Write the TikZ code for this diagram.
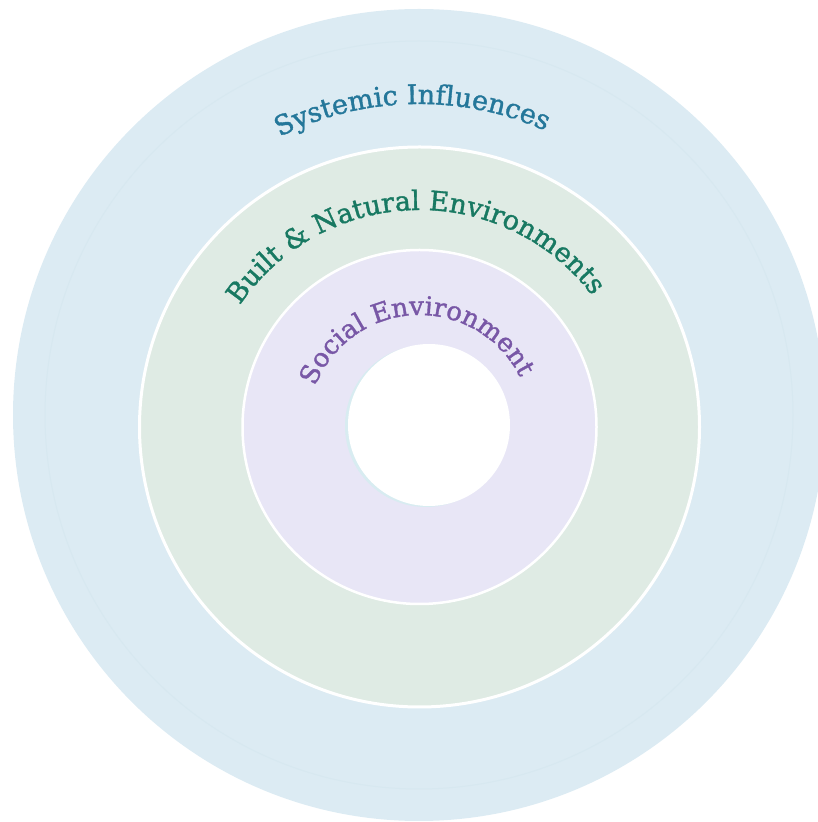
\documentclass[tikz,border=0pt]{standalone}
\usepackage{fontspec}
\setmainfont{DejaVu Serif}
\newfontfamily\labelfont{DejaVu Serif}[FakeBold=1.3]
\usetikzlibrary{decorations.text,calc}
\definecolor{outerfill}{HTML}{DCEBF3}
\definecolor{greenfill}{HTML}{DFEBE4}
\definecolor{purplefill}{HTML}{E8E6F6}
\definecolor{systext}{HTML}{24779A}
\definecolor{builttext}{HTML}{187962}
\definecolor{socialtext}{HTML}{7857A6}
\definecolor{faintring}{HTML}{D7E8F0}
\definecolor{innershade}{HTML}{D8ECF1}
\tikzset{
  ring/.style={draw=white, line width=3pt},
  arclabel/.style 2 args={decorate, decoration={text along path, text align=center, text color=#1, text={#2}}}
}
\begin{document}
\begin{tikzpicture}[x=1pt,y=1pt]
\useasboundingbox (0,0) rectangle (818,822);
\clip (0,0) rectangle (818,822);
\coordinate (co) at (419,407);
\coordinate (cm) at (419.5,395);
\coordinate (ci) at (429,397);
\coordinate (cs) at (426,396);
% outer ring
\fill[outerfill] (co) circle[radius=406];
\draw[faintring, line width=1pt] (co) circle[radius=374];
% middle rings
\filldraw[fill=greenfill, ring] (cm) circle[radius=280];
\filldraw[fill=purplefill, ring, line width=2.5pt] (cm) circle[radius=177];
% inner hole
\fill[innershade] (cs) circle[radius=81];
\fill[white] (ci) circle[radius=81];
% labels
\path[arclabel={systext}{|\labelfont\fontsize{27}{32}\selectfont|Systemic Influences}]
  ($(co)+(181.3:311)$) arc[start angle=181.3, end angle=1.3, radius=311];
\path[arclabel={builttext}{|\labelfont\fontsize{27}{32}\selectfont|Built {\&} Natural Environments}]
  ($(cm)+(181.5:217)$) arc[start angle=181.5, end angle=1.5, radius=217];
\path[arclabel={socialtext}{|\labelfont\fontsize{26}{31}\selectfont|Social Environment}]
  ($(cm)+(182.4:112)$) arc[start angle=182.4, end angle=2.4, radius=112];
\end{tikzpicture}
\end{document}
